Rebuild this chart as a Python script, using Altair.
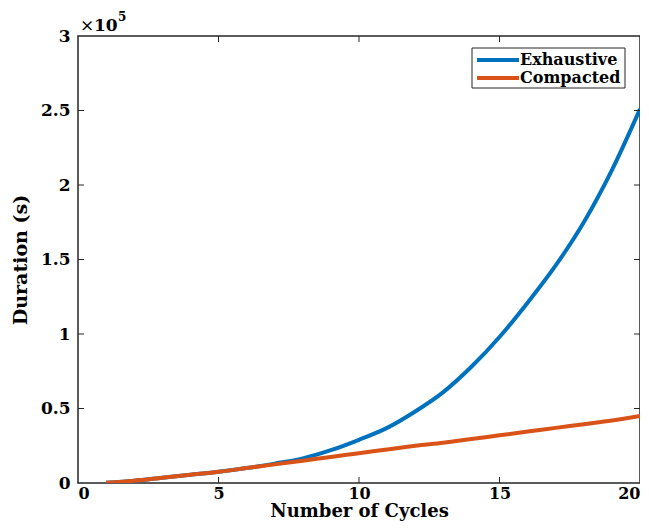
import altair as alt
import pandas as pd

cycles = list(range(1, 21))
exhaustive = [200, 1500, 3500, 5500, 7500, 10000, 13000, 16500, 22000, 29000,
              37000, 48000, 61000, 78000, 98000, 121000, 146000, 175000, 210000, 251000]
compacted = [200, 1500, 3500, 5500, 7500, 10000, 12500, 15000, 17500, 20000,
             22500, 25000, 27000, 29500, 32000, 34500, 37000, 39500, 42000, 45000]
series_names = ["Exhaustive", "Compacted"]
colors = ["#0072BD", "#D95319"]
x_ticks = [0, 5, 10, 15, 20]
y_ticks = [0, 50000, 100000, 150000, 200000, 250000, 300000]

W, H = 562, 447
FONT = "DejaVu Serif"
INK = "#262626"

df = pd.DataFrame({
    "cycles": cycles * 2,
    "duration": exhaustive + compacted,
    "series": [series_names[0]] * len(cycles) + [series_names[1]] * len(cycles),
})

xs = alt.Scale(domain=[0, 20], nice=False)
ys = alt.Scale(domain=[0, 300000], nice=False)
cs = alt.Scale(domain=series_names, range=colors)

lines = alt.Chart(df).mark_line(strokeWidth=4, interpolate="monotone", clip=True).encode(
    x=alt.X("cycles:Q", scale=xs,
            axis=alt.Axis(values=x_ticks, title="Number of Cycles", tickSize=0,
                          domain=False, grid=False, labelPadding=2, titlePadding=1,
                          labelFontSize=16, titleFontSize=18)),
    y=alt.Y("duration:Q", scale=ys,
            axis=alt.Axis(values=y_ticks, title="Duration (s)", tickSize=0,
                          domain=False, grid=False, labelPadding=8, titlePadding=10,
                          labelExpr="datum.value/100000")),
    color=alt.Color("series:N", scale=cs, legend=None),
)

yt = pd.DataFrame({"v": y_ticks[1:-1]})
xt = pd.DataFrame({"v": x_ticks[1:-1]})
ytl = alt.Chart(yt).mark_rule(color=INK, strokeWidth=1).encode(
    y=alt.Y("v:Q", scale=ys), x=alt.value(0), x2=alt.value(6))
ytr = alt.Chart(yt).mark_rule(color=INK, strokeWidth=1).encode(
    y=alt.Y("v:Q", scale=ys), x=alt.value(W - 6), x2=alt.value(W))
xtb = alt.Chart(xt).mark_rule(color=INK, strokeWidth=1).encode(
    x=alt.X("v:Q", scale=xs), y=alt.value(H - 6), y2=alt.value(H))
xtt = alt.Chart(xt).mark_rule(color=INK, strokeWidth=1).encode(
    x=alt.X("v:Q", scale=xs), y=alt.value(0), y2=alt.value(6))

# legend (custom, MATLAB style)
one = pd.DataFrame({"a": [0]})
leg_layers = [alt.Chart(one).mark_rect(fill="white", stroke=INK, strokeWidth=1).encode(
    x=alt.value(394), x2=alt.value(547), y=alt.value(12), y2=alt.value(52))]
for i, (name, col) in enumerate(zip(series_names, colors)):
    row = 24 + 18 * i
    leg_layers.append(alt.Chart(one).mark_rule(strokeWidth=4, color=col).encode(
        x=alt.value(399), x2=alt.value(441), y=alt.value(row)))
    leg_layers.append(alt.Chart(one).mark_text(
        font=FONT, fontSize=16, fontWeight="bold", align="left", baseline="middle",
        color="black", text=name).encode(x=alt.value(442), y=alt.value(row)))

exp_x = alt.Chart(one).mark_text(font=FONT, fontSize=17, align="left", text="×",
                                 baseline="alphabetic", color="black").encode(
    x=alt.value(2), y=alt.value(-5))
exp_main = alt.Chart(one).mark_text(font=FONT, fontSize=17, fontWeight="bold", align="left",
                                    text="10", baseline="alphabetic", color="black").encode(
    x=alt.value(16), y=alt.value(-5))
exp_sup = alt.Chart(one).mark_text(font=FONT, fontSize=12, fontWeight="bold", align="left",
                                   text="5", baseline="alphabetic", color="black").encode(
    x=alt.value(40), y=alt.value(-15))

chart = alt.layer(lines, ytl, ytr, xtb, xtt, *leg_layers,
                  exp_x, exp_main, exp_sup).properties(
    width=W, height=H,
    autosize=alt.AutoSizeParams(type="none"),
    padding={"left": 70, "top": 28, "right": 0, "bottom": 38},
).configure_view(stroke=INK, strokeWidth=1.5).configure_axis(
    labelFont=FONT, labelFontSize=17, labelFontWeight="bold", labelColor="black",
    titleFont=FONT, titleFontSize=19, titleFontWeight="bold", titleColor="black",
)

chart.save("out.html", embed_options={"renderer": "svg", "actions": False})
